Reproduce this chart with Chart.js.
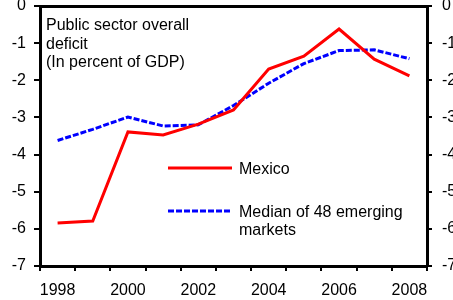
<!DOCTYPE html>
<html><head><meta charset="utf-8">
<script src="https://cdn.jsdelivr.net/npm/chart.js@4/dist/chart.umd.min.js"></script>
<style>html,body{margin:0;padding:0;background:#fff}#wrap{width:453px;height:300px;position:relative}</style>
</head><body><div id="wrap"><canvas id="c"></canvas></div>
<script>
const years = ["1998","1999","2000","2001","2002","2003","2004","2005","2006","2007","2008"];
const mexico = [-5.84,-5.79,-3.39,-3.47,-3.18,-2.80,-1.70,-1.35,-0.62,-1.43,-1.88];
const median = [-3.62,-3.32,-2.99,-3.23,-3.20,-2.68,-2.08,-1.55,-1.20,-1.18,-1.42];
const seriesNames = ["Mexico", ["Median of 48 emerging","markets"]];
const titleLines = ["Public sector overall","deficit","(In percent of GDP)"];
const yTicks = [0,-1,-2,-3,-4,-5,-6,-7];

const FONT = '"Liberation Sans", Arial, sans-serif';

const overlay = {
  id:'overlay',
  afterDraw(chart){
    const ctx = chart.ctx;
    const a = chart.chartArea;
    ctx.save();
    ctx.fillStyle = '#000';
    ctx.font = '16px ' + FONT;
    ctx.textBaseline = 'alphabetic';
    ctx.textAlign = 'left';
    titleLines.forEach((t,i)=>ctx.fillText(t, a.left+6, 30 + i*18.5));
    const items = [
      {ds:chart.data.datasets[0], y:168, lines:[seriesNames[0]]},
      {ds:chart.data.datasets[1], y:211, lines:seriesNames[1]}
    ];
    items.forEach(it=>{
      ctx.beginPath();
      ctx.strokeStyle = it.ds.borderColor;
      ctx.lineWidth = it.ds.borderWidth;
      ctx.setLineDash(it.ds.borderDash || []);
      ctx.moveTo(168, it.y); ctx.lineTo(232, it.y);
      ctx.stroke();
      ctx.setLineDash([]);
      it.lines.forEach((t,i)=>ctx.fillText(t, 239, it.y + 6 + i*17.5));
    });
    ctx.restore();
  }
};

function noPadV(s){ s.paddingTop = 0; s.paddingBottom = 0; }

new Chart(document.getElementById('c'), {
  type:'line',
  data:{
    labels: years,
    datasets:[
      {label:'Mexico', data:mexico, borderColor:'#ff0000', backgroundColor:'#ff0000', borderWidth:3, pointRadius:0, tension:0, yAxisID:'y'},
      {label:'Median of 48 emerging markets', data:median, borderColor:'#0000ff', backgroundColor:'#0000ff', borderWidth:3, borderDash:[6,2], pointRadius:0, tension:0, yAxisID:'y'}
    ]
  },
  options:{
    responsive:true, maintainAspectRatio:false, animation:false,
    layout:{padding:0},
    plugins:{legend:{display:false}, tooltip:{enabled:false}, title:{display:false}},
    scales:{
      x:{
        type:'category', position:'bottom', offset:true,
        grid:{offset:true, drawOnChartArea:false, drawTicks:true, tickLength:5, color:'#000', lineWidth:2},
        border:{display:true, color:'#000', width:3},
        ticks:{autoSkip:false, maxRotation:0, color:'#000', font:{family:FONT, size:16}, padding:10,
          callback:function(v,i){ const l = years[i]; return (Number(l)%2===0) ? l : ''; }},
        afterFit(s){ s.height = 34; s.paddingLeft = 0; s.paddingRight = 0; }
      },
      xTop:{
        type:'category', position:'top', offset:true,
        grid:{drawOnChartArea:false, drawTicks:false},
        border:{display:true, color:'#000', width:3},
        ticks:{display:false},
        afterFit(s){ s.height = 6; s.paddingLeft = 0; s.paddingRight = 0; }
      },
      y:{
        position:'left', min:-7, max:0,
        grid:{drawOnChartArea:false, drawTicks:true, tickLength:6, color:'#000', lineWidth:2},
        border:{display:true, color:'#000', width:3},
        afterBuildTicks(s){ s.ticks = yTicks.map(v=>({value:v})); },
        ticks:{color:'#000', font:{family:FONT, size:16}, padding:8, callback:v=>String(v)},
        afterFit(s){ s.width = 40; noPadV(s); }
      },
      y2:{
        position:'right', min:-7, max:0,
        grid:{drawOnChartArea:false, drawTicks:true, tickLength:5, color:'#000', lineWidth:2},
        border:{display:true, color:'#000', width:3},
        afterBuildTicks(s){ s.ticks = yTicks.map(v=>({value:v})); },
        ticks:{color:'#000', font:{family:FONT, size:16}, padding:10, callback:v=>String(v)},
        afterFit(s){ s.width = 26; noPadV(s); }
      }
    }
  },
  plugins:[overlay]
});
</script></body></html>
